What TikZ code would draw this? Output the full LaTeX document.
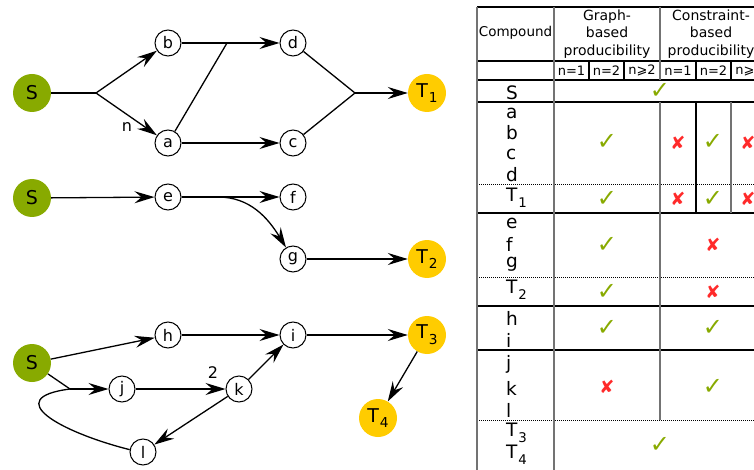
\documentclass[tikz,border=0pt]{standalone}
\usepackage{fontspec}
\setmainfont{DejaVu Sans}
\usetikzlibrary{arrows.meta}
\definecolor{sgreen}{HTML}{88AA00}
\definecolor{tyellow}{HTML}{FFCC00}
\definecolor{okgreen}{HTML}{88AA00}
\definecolor{nored}{HTML}{FF2A2A}
\newcommand\Tsub[1]{T\kern0.05em\raisebox{-0.3em}{\scalebox{0.72}{#1}}}
\tikzset{
  edge/.style={line width=1.3pt},
  arr/.style={edge,-{Stealth[length=20pt,width=12pt,inset=7pt]}},
  snode/.style={circle,fill=sgreen,minimum size=38pt,inner sep=0pt,font=\fontsize{19}{19}\selectfont},
  tnode/.style={circle,fill=tyellow,minimum size=38pt,inner sep=0pt,font=\fontsize{19}{19}\selectfont},
  vnode/.style={circle,draw,line width=1pt,fill=white,minimum size=26pt,inner sep=0pt,font=\fontsize{16}{16}\selectfont},
  elabel/.style={font=\fontsize{16}{16}\selectfont},
  hline/.style={line width=1.2pt,black},
  dline/.style={line width=1pt,black,densely dotted},
  vline/.style={line width=1.3pt,black!55},
  vlineb/.style={line width=1.1pt,black},
  hdr/.style={align=center,font=\fontsize{14}{17.5}\selectfont},
  sub/.style={font=\fontsize{13}{13}\selectfont},
  cmp/.style={anchor=west,inner sep=0pt,font=\fontsize{18.5}{18.5}\selectfont},
  ok/.style={text=okgreen,font=\fontsize{24}{24}\selectfont\bfseries},
  no/.style={text=nored,font=\fontsize{18}{18}\selectfont},
}
\begin{document}
\begin{tikzpicture}[x=1pt,y=-1pt]
\useasboundingbox (0,0) rectangle (754,470);
\clip (0,0) rectangle (754,470);
% ---------- graph 1
\node[snode] (S1) at (32,93) {S};
\node[vnode] (b) at (168,43) {b};
\node[vnode] (a) at (168,143) {a};
\node[vnode] (d) at (293,43) {d};
\node[vnode] (c) at (293,143) {c};
\node[tnode] (T1) at (427,93) {\Tsub{1}};
\coordinate (J1) at (96,93);
\coordinate (J2) at (227,43);
\coordinate (J3) at (355,93);
\draw[edge] (S1) -- (J1);
\draw[arr] (J1) -- (b);
\draw[arr] (J1) -- (a);
\draw[arr] (b) -- (d);
\draw[edge] (a) -- (J2);
\draw[arr] (a) -- (c);
\draw[edge] (d) -- (J3);
\draw[edge] (c) -- (J3);
\draw[arr] (J3) -- (T1);
\node[elabel] (nlab) at (127,127) {n};
% ---------- graph 2
\node[snode] (S2) at (32,198) {S};
\node[vnode] (e) at (168,197) {e};
\node[vnode] (f) at (293,197) {f};
\node[vnode] (g) at (293,259) {g};
\node[tnode] (T2) at (427,259) {\Tsub{2}};
\coordinate (E1) at (218,197);
\draw[arr] (S2) -- (e);
\draw[arr] (e) -- (f);
\draw[arr] (e.east) -- (E1) .. controls (250,197) and (268,218) .. (g);
\draw[arr] (g) -- (T2);
% ---------- graph 3
\node[snode] (S3) at (32,363) {S};
\node[vnode] (h) at (168,335) {h};
\node[vnode] (i) at (293,335) {i};
\node[tnode] (T3) at (427,335) {\Tsub{3}};
\node[tnode] (T4) at (378,418) {\Tsub{4}};
\node[vnode] (j) at (122,389) {j};
\node[vnode] (k) at (239,389) {k};
\node[vnode] (l) at (143,452) {l};
\coordinate (M) at (70,389);
\draw[arr] (S3) -- (h);
\draw[arr] (h) -- (i);
\draw[arr] (i) -- (T3);
\draw[arr] (T3) -- (T4);
\draw[edge] (S3) -- (M);
\draw[edge] (l.170) .. controls (60,432) and (0,398) .. (M);
\draw[arr] (M) -- (j);
\draw[arr] (j) -- (k);
\draw[arr] (k) -- (i);
\draw[arr] (k) -- (l);
\node[elabel] (twolab) at (213,373) {2};
% ---------- table lines
\foreach \yy in {7,61,80,102,213,306,350} \draw[hline] (477,\yy) -- (760,\yy);
\foreach \yy in {185,277,420} \draw[dline] (477,\yy) -- (760,\yy);
\draw[vline] (477,7) -- (477,470);
\draw[vline] (554,7) -- (554,470);
\draw[vline] (660,7) -- (660,80);
\draw[vline] (660,102) -- (660,420);
\foreach \xx in {589,624,696,731} \draw[vlineb] (\xx,61) -- (\xx,80);
\draw[vlineb] (696,102) -- (696,213);
\draw[vline] (731,102) -- (731,213);
% ---------- table header
\node[font=\fontsize{13.5}{13.5}\selectfont] (hc) at (515.5,33) {Compound};
\node[hdr] (hg) at (607,34) {Graph-\\based\\producibility};
\node[hdr] (hk) at (711,34) {Constraint-\\based\\producibility};
\node[sub] (s1) at (571.5,70.5) {n=1};
\node[sub] (s2) at (606.5,70.5) {n=2};
\node[sub] (s3) at (642,70.5) {n⩾2};
\node[sub] (s4) at (678,70.5) {n=1};
\node[sub] (s5) at (713.5,70.5) {n=2};
\node[sub] (s6) at (749,70.5) {n⩾2};
% ---------- compounds
\node[cmp] (cS) at (506,93) {S};
\node[cmp] (ca) at (506,113) {a};
\node[cmp] (cb) at (506,133) {b};
\node[cmp] (cc) at (506,154) {c};
\node[cmp] (cd) at (506,175) {d};
\node[cmp] (cT1) at (506,198) {\Tsub{1}};
\node[cmp] (ce) at (506,223) {e};
\node[cmp] (cf) at (506,244) {f};
\node[cmp] (cg) at (506,264) {g};
\node[cmp] (cT2) at (506,290) {\Tsub{2}};
\node[cmp] (ch) at (506,318) {h};
\node[cmp] (ci) at (506,340) {i};
\node[cmp] (cj) at (506,364) {j};
\node[cmp] (ck) at (506,388) {k};
\node[cmp] (cl) at (506,410) {l};
\node[cmp] (cT3) at (506,433) {\Tsub{3}};
\node[cmp] (cT4) at (506,455) {\Tsub{4}};
% ---------- marks
\node[ok] (m1) at (660,91) {✓};
\node[ok] (m2) at (607,142) {✓};
\node[no] (m3) at (678,143) {✘};
\node[ok] (m4) at (713,142) {✓};
\node[no] (m5) at (748,143) {✘};
\node[ok] (m6) at (607,199) {✓};
\node[no] (m7) at (678,199) {✘};
\node[ok] (m8) at (713,199) {✓};
\node[no] (m9) at (748,199) {✘};
\node[ok] (m10) at (607,245) {✓};
\node[no] (m11) at (713,245) {✘};
\node[ok] (m12) at (607,292) {✓};
\node[no] (m13) at (713,292) {✘};
\node[ok] (m14) at (607,328) {✓};
\node[ok] (m15) at (713,328) {✓};
\node[no] (m16) at (607,387) {✘};
\node[ok] (m17) at (713,387) {✓};
\node[ok] (m18) at (660,445) {✓};
\end{tikzpicture}
\end{document}
